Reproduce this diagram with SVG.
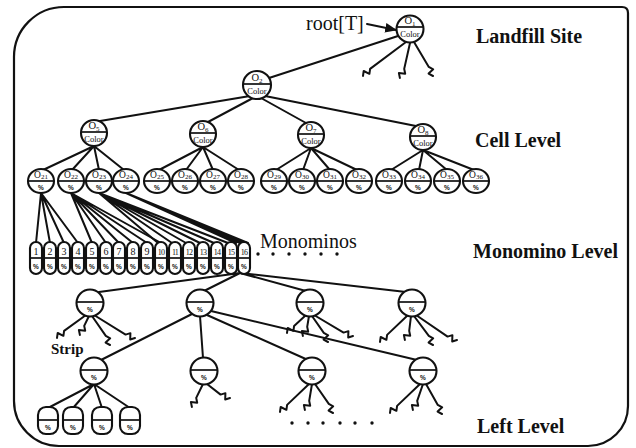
<svg xmlns="http://www.w3.org/2000/svg" width="636" height="448" viewBox="0 0 636 448">
  <defs>
    <style>
      .ln { stroke:#111; stroke-width:2; fill:none; stroke-linecap:round; stroke-linejoin:round }
      .nd { fill:#fff; stroke:#111; stroke-width:2.1 }
      .dv { stroke:#111; stroke-width:1.7 }
      .t { font-family:"Liberation Serif", "Times New Roman", serif; fill:#111 }
      .lbl { font-weight:bold; font-size:20px }
      .nm { font-size:10.5px; text-anchor:middle }
      .sm { font-size:9.5px; text-anchor:middle }
      .sub { font-size:7px }
      .cl { font-size:8.5px; text-anchor:middle }
      .pc { font-size:6.5px; text-anchor:middle; font-family:"Liberation Sans", sans-serif; font-weight:bold }
      .num { font-size:10px; text-anchor:middle }
      .num2 { font-size:8px; text-anchor:middle; letter-spacing:-0.8px }
      .dot { fill:#111 }
    </style>
    <marker id="arr" viewBox="0 0 10 10" refX="9" refY="5" markerWidth="6" markerHeight="6" orient="auto">
      <path d="M0,1 L10,5 L0,9 Z" fill="#111"/>
    </marker>
  </defs>
  <rect width="636" height="448" fill="#fff"/>

  <!-- outer frame -->
  <path class="ln" style="stroke-width:2.2" d="M64 7 H622 Q628 7 628 13 V406 A40 40 0 0 1 588 446 H59 A45 45 0 0 1 14 401 V57 A50 50 0 0 1 64 7 Z"/>

  <!-- level labels -->
  <g id="labels">
    <text class="t lbl" x="476" y="43">Landfill Site</text>
    <text class="t lbl" x="475" y="147">Cell Level</text>
    <text class="t lbl" x="473" y="258">Monomino Level</text>
    <text class="t lbl" x="477" y="433">Left Level</text>
    <text class="t" x="260" y="248" font-size="20">Monominos</text>
    <text class="t" x="51" y="354" font-size="15" font-weight="bold">Strip</text>
    <text class="t" x="306" y="30" font-size="20">root[T]</text>
  </g>

  <!-- connectors -->
  <g id="connectors">
    <line class="ln" x1="367" y1="24" x2="396" y2="30" marker-end="url(#arr)"/>
    <!-- root to O2 and stubs -->
    <line class="ln" x1="398" y1="36" x2="269" y2="78"/>
    <path class="ln" d="M406 42 L370.1 68.9 l-0.7 4.9 l-5.7 -2.8 l-0.7 4.9"/>
    <path class="ln" d="M410 43 L404.2 68.9 l1 4.9 l-6.3 -0.7 l1 4.9"/>
    <path class="ln" d="M414 42 L428.8 66.9 l4.4 2.4 l-4.6 4.3 l4.4 2.4"/>
    <!-- O2 to cells -->
    <line class="ln" x1="250" y1="96" x2="100" y2="121"/>
    <line class="ln" x1="253" y1="98" x2="208" y2="122"/>
    <line class="ln" x1="261" y1="98" x2="306" y2="123"/>
    <line class="ln" x1="265" y1="96" x2="416" y2="126"/>
    <!-- cells to O21..O36 -->
    <path class="ln" d="M94 146 L43 170 M94 146 L72 170 M94 146 L99 170 M94 146 L124 170"/>
    <path class="ln" d="M203 147 L159 170 M203 147 L186 170 M203 147 L213 170 M203 147 L239 170"/>
    <path class="ln" d="M311 148 L276 170 M311 148 L303 170 M311 148 L330 170 M311 148 L357 170"/>
    <path class="ln" d="M423 150 L391 170 M423 150 L419 170 M423 150 L447 170 M423 150 L474 170"/>
    <!-- O21..O24 to monominos -->
    <path class="ln" d="M41 193 L36 243 M41 193 L50 243 M41 193 L64 243 M41 193 L78 243"/>
    <path class="ln" d="M71 193 L92 243 M71 193 L106 243 M71 193 L119 243 M71 193 L133 243 M71 193 L147 243 M71 193 L161 243"/>
    <path class="ln" d="M99 193 L158 243 M99 193 L172 243 M99 193 L186 243 M99 193 L200 243 M99 193 L214 243 M99 193 L228 243"/>
    <path class="ln" d="M126 193 L236 243 M126 193 L240 243 M126 193 L244 243 M126 193 L248 243"/>
    <!-- monominos to strip nodes -->
    <path class="ln" d="M240 273 L99 292 M240 273 L204 291 M240 273 L306 291 M240 273 L406 292"/>
    <!-- strip node 1 stubs -->
    <path class="ln" d="M86 315 L64.1 330.9 l-0.7 4.9 l-5.7 -2.8 l-0.7 4.9"/>
    <path class="ln" d="M89 316 L84.2 325.9 l1 4.9 l-6.3 -0.7 l1 4.9"/>
    <path class="ln" d="M92 316 L105.8 335.9 l4.4 2.4 l-4.6 4.3 l4.4 2.4"/>
    <path class="ln" d="M94 315 L125.6 334.6 l4.8 -1.45 l-0.2 6.3 l4.8 -1.45"/>
    <!-- strip node 2 to left level -->
    <line class="ln" x1="192" y1="314" x2="101" y2="360"/>
    <line class="ln" x1="200" y1="316" x2="203" y2="358"/>
    <line class="ln" x1="207" y1="315" x2="308" y2="360"/>
    <line class="ln" x1="211" y1="311" x2="417" y2="360"/>
    <!-- strip node 3 stubs -->
    <path class="ln" d="M306 315 L294.1 325.9 l-0.7 4.9 l-5.7 -2.8 l-0.7 4.9"/>
    <path class="ln" d="M309 316 L307.2 326.9 l1 4.9 l-6.3 -0.7 l1 4.9"/>
    <path class="ln" d="M312 316 L323.8 332.9 l4.4 2.4 l-4.6 4.3 l4.4 2.4"/>
    <path class="ln" d="M314 315 L343.6 332.6 l4.8 -1.45 l-0.2 6.3 l4.8 -1.45"/>
    <!-- strip node 4 stubs -->
    <path class="ln" d="M408 315 L387.1 334.9 l-0.7 4.9 l-5.7 -2.8 l-0.7 4.9"/>
    <path class="ln" d="M411 316 L409.2 330.9 l1 4.9 l-6.3 -0.7 l1 4.9"/>
    <path class="ln" d="M414 316 L428.8 335.9 l4.4 2.4 l-4.6 4.3 l4.4 2.4"/>
    <path class="ln" d="M416 315 L447.6 336.6 l4.8 -1.45 l-0.2 6.3 l4.8 -1.45"/>
    <!-- left level A to leaves -->
    <path class="ln" d="M94 384 L48 408 M94 384 L73 408 M94 384 L102 408 M94 384 L130 408"/>
    <!-- left level B stubs -->
    <path class="ln" d="M203 384 L196.2 397.9 l1 4.9 l-6.3 -0.7 l1 4.9"/>
    <path class="ln" d="M207 384 L220.6 394.6 l4.8 -1.45 l-0.2 6.3 l4.8 -1.45"/>
    <!-- left level C stubs -->
    <path class="ln" d="M309 384 L287.1 404.9 l-0.7 4.9 l-5.7 -2.8 l-0.7 4.9"/>
    <path class="ln" d="M312 384 L309.2 400.9 l1 4.9 l-6.3 -0.7 l1 4.9"/>
    <path class="ln" d="M315 384 L328.8 403.9 l4.4 2.4 l-4.6 4.3 l4.4 2.4"/>
    <!-- left level D stubs -->
    <path class="ln" d="M420 384 L397.1 405.9 l-0.7 4.9 l-5.7 -2.8 l-0.7 4.9"/>
    <path class="ln" d="M423 384 L417.2 400.9 l1 4.9 l-6.3 -0.7 l1 4.9"/>
    <path class="ln" d="M426 384 L437.8 404.9 l4.4 2.4 l-4.6 4.3 l4.4 2.4"/>
  </g>

  <!-- continuation dots -->
  <g id="dots">
    <circle class="dot" cx="258" cy="254" r="1.7"/><circle class="dot" cx="273" cy="254" r="1.7"/>
    <circle class="dot" cx="289" cy="254" r="1.7"/><circle class="dot" cx="305" cy="254" r="1.7"/>
    <circle class="dot" cx="321" cy="254" r="1.7"/><circle class="dot" cx="337" cy="254" r="1.7"/>
    <circle class="dot" cx="292" cy="423" r="1.7"/><circle class="dot" cx="308" cy="423" r="1.7"/>
    <circle class="dot" cx="323" cy="423" r="1.7"/><circle class="dot" cx="340" cy="423" r="1.7"/>
    <circle class="dot" cx="355" cy="423" r="1.7"/><circle class="dot" cx="372" cy="423" r="1.7"/>
  </g>

  <!-- site and cell nodes -->
  <g id="o1"><circle class="nd" cx="410" cy="29" r="13.5"/><line class="dv" x1="397" y1="27" x2="423" y2="27"/><text class="t nm" x="410" y="24">O<tspan class="sub" dy="1.5">1</tspan></text><text class="t cl" x="410" y="37">Color</text></g>
  <g id="o2"><circle class="nd" cx="257" cy="85" r="14"/><line class="dv" x1="243" y1="84" x2="271" y2="84"/><text class="t nm" x="257" y="81">O<tspan class="sub" dy="1.5">2</tspan></text><text class="t cl" x="257" y="94">Color</text></g>
  <g id="o5"><circle class="nd" cx="94" cy="133" r="13"/><line class="dv" x1="81" y1="132" x2="107" y2="132"/><text class="t nm" x="94" y="129">O<tspan class="sub" dy="1.5">5</tspan></text><text class="t cl" x="94" y="142">Color</text></g>
  <g id="o6"><circle class="nd" cx="203" cy="134" r="13"/><line class="dv" x1="190" y1="133" x2="216" y2="133"/><text class="t nm" x="203" y="130">O<tspan class="sub" dy="1.5">6</tspan></text><text class="t cl" x="203" y="143">Color</text></g>
  <g id="o7"><circle class="nd" cx="311" cy="135" r="13"/><line class="dv" x1="298" y1="134" x2="324" y2="134"/><text class="t nm" x="311" y="131">O<tspan class="sub" dy="1.5">7</tspan></text><text class="t cl" x="311" y="144">Color</text></g>
  <g id="o8"><circle class="nd" cx="423" cy="137" r="13"/><line class="dv" x1="410" y1="136" x2="436" y2="136"/><text class="t nm" x="423" y="133">O<tspan class="sub" dy="1.5">8</tspan></text><text class="t cl" x="423" y="146">Color</text></g>

  <!-- sub-cell nodes O21..O36 -->
  <g id="o21"><ellipse class="nd" cx="41" cy="181" rx="13" ry="12"/><line class="dv" x1="28" y1="181" x2="54" y2="181"/><text class="t sm" x="41" y="178">O<tspan class="sub" dy="1">21</tspan></text><text class="t pc" x="41" y="190">%</text></g>
  <g id="o22"><ellipse class="nd" cx="71" cy="181" rx="13" ry="12"/><line class="dv" x1="58" y1="181" x2="84" y2="181"/><text class="t sm" x="71" y="178">O<tspan class="sub" dy="1">22</tspan></text><text class="t pc" x="71" y="190">%</text></g>
  <g id="o23"><ellipse class="nd" cx="99" cy="181" rx="13" ry="12"/><line class="dv" x1="86" y1="181" x2="112" y2="181"/><text class="t sm" x="99" y="178">O<tspan class="sub" dy="1">23</tspan></text><text class="t pc" x="99" y="190">%</text></g>
  <g id="o24"><ellipse class="nd" cx="126" cy="181" rx="13" ry="12"/><line class="dv" x1="113" y1="181" x2="139" y2="181"/><text class="t sm" x="126" y="178">O<tspan class="sub" dy="1">24</tspan></text><text class="t pc" x="126" y="190">%</text></g>
  <g id="o25"><ellipse class="nd" cx="157" cy="181" rx="13" ry="12"/><line class="dv" x1="144" y1="181" x2="170" y2="181"/><text class="t sm" x="157" y="178">O<tspan class="sub" dy="1">25</tspan></text><text class="t pc" x="157" y="190">%</text></g>
  <g id="o26"><ellipse class="nd" cx="185" cy="181" rx="13" ry="12"/><line class="dv" x1="172" y1="181" x2="198" y2="181"/><text class="t sm" x="185" y="178">O<tspan class="sub" dy="1">26</tspan></text><text class="t pc" x="185" y="190">%</text></g>
  <g id="o27"><ellipse class="nd" cx="213" cy="181" rx="13" ry="12"/><line class="dv" x1="200" y1="181" x2="226" y2="181"/><text class="t sm" x="213" y="178">O<tspan class="sub" dy="1">27</tspan></text><text class="t pc" x="213" y="190">%</text></g>
  <g id="o28"><ellipse class="nd" cx="241" cy="181" rx="13" ry="12"/><line class="dv" x1="228" y1="181" x2="254" y2="181"/><text class="t sm" x="241" y="178">O<tspan class="sub" dy="1">28</tspan></text><text class="t pc" x="241" y="190">%</text></g>
  <g id="o29"><ellipse class="nd" cx="274" cy="181" rx="13" ry="12"/><line class="dv" x1="261" y1="181" x2="287" y2="181"/><text class="t sm" x="274" y="178">O<tspan class="sub" dy="1">29</tspan></text><text class="t pc" x="274" y="190">%</text></g>
  <g id="o30"><ellipse class="nd" cx="302" cy="181" rx="13" ry="12"/><line class="dv" x1="289" y1="181" x2="315" y2="181"/><text class="t sm" x="302" y="178">O<tspan class="sub" dy="1">30</tspan></text><text class="t pc" x="302" y="190">%</text></g>
  <g id="o31"><ellipse class="nd" cx="330" cy="181" rx="13" ry="12"/><line class="dv" x1="317" y1="181" x2="343" y2="181"/><text class="t sm" x="330" y="178">O<tspan class="sub" dy="1">31</tspan></text><text class="t pc" x="330" y="190">%</text></g>
  <g id="o32"><ellipse class="nd" cx="359" cy="181" rx="13" ry="12"/><line class="dv" x1="346" y1="181" x2="372" y2="181"/><text class="t sm" x="359" y="178">O<tspan class="sub" dy="1">32</tspan></text><text class="t pc" x="359" y="190">%</text></g>
  <g id="o33"><ellipse class="nd" cx="389" cy="181" rx="13" ry="12"/><line class="dv" x1="376" y1="181" x2="402" y2="181"/><text class="t sm" x="389" y="178">O<tspan class="sub" dy="1">33</tspan></text><text class="t pc" x="389" y="190">%</text></g>
  <g id="o34"><ellipse class="nd" cx="418" cy="181" rx="13" ry="12"/><line class="dv" x1="405" y1="181" x2="431" y2="181"/><text class="t sm" x="418" y="178">O<tspan class="sub" dy="1">34</tspan></text><text class="t pc" x="418" y="190">%</text></g>
  <g id="o35"><ellipse class="nd" cx="447" cy="181" rx="13" ry="12"/><line class="dv" x1="434" y1="181" x2="460" y2="181"/><text class="t sm" x="447" y="178">O<tspan class="sub" dy="1">35</tspan></text><text class="t pc" x="447" y="190">%</text></g>
  <g id="o36"><ellipse class="nd" cx="476" cy="181" rx="13" ry="12"/><line class="dv" x1="463" y1="181" x2="489" y2="181"/><text class="t sm" x="476" y="178">O<tspan class="sub" dy="1">36</tspan></text><text class="t pc" x="476" y="190">%</text></g>

  <!-- monomino nodes 1..16 -->
  <g id="m1"><rect class="nd" x="30" y="242" width="12" height="32" rx="6"/><line class="dv" x1="30" y1="258" x2="42" y2="258"/><text class="t num" x="36" y="255">1</text><text class="t pc" x="36" y="269">%</text></g>
  <g id="m2"><rect class="nd" x="44" y="242" width="12" height="32" rx="6"/><line class="dv" x1="44" y1="258" x2="56" y2="258"/><text class="t num" x="50" y="255">2</text><text class="t pc" x="50" y="269">%</text></g>
  <g id="m3"><rect class="nd" x="58" y="242" width="12" height="32" rx="6"/><line class="dv" x1="58" y1="258" x2="70" y2="258"/><text class="t num" x="64" y="255">3</text><text class="t pc" x="64" y="269">%</text></g>
  <g id="m4"><rect class="nd" x="72" y="242" width="12" height="32" rx="6"/><line class="dv" x1="72" y1="258" x2="84" y2="258"/><text class="t num" x="78" y="255">4</text><text class="t pc" x="78" y="269">%</text></g>
  <g id="m5"><rect class="nd" x="86" y="242" width="12" height="32" rx="6"/><line class="dv" x1="86" y1="258" x2="98" y2="258"/><text class="t num" x="92" y="255">5</text><text class="t pc" x="92" y="269">%</text></g>
  <g id="m6"><rect class="nd" x="100" y="242" width="12" height="32" rx="6"/><line class="dv" x1="100" y1="258" x2="112" y2="258"/><text class="t num" x="106" y="255">6</text><text class="t pc" x="106" y="269">%</text></g>
  <g id="m7"><rect class="nd" x="113" y="242" width="12" height="32" rx="6"/><line class="dv" x1="113" y1="258" x2="125" y2="258"/><text class="t num" x="119" y="255">7</text><text class="t pc" x="119" y="269">%</text></g>
  <g id="m8"><rect class="nd" x="127" y="242" width="12" height="32" rx="6"/><line class="dv" x1="127" y1="258" x2="139" y2="258"/><text class="t num" x="133" y="255">8</text><text class="t pc" x="133" y="269">%</text></g>
  <g id="m9"><rect class="nd" x="141" y="242" width="12" height="32" rx="6"/><line class="dv" x1="141" y1="258" x2="153" y2="258"/><text class="t num" x="147" y="255">9</text><text class="t pc" x="147" y="269">%</text></g>
  <g id="m10"><rect class="nd" x="155" y="242" width="12" height="32" rx="6"/><line class="dv" x1="155" y1="258" x2="167" y2="258"/><text class="t num2" x="161" y="255">10</text><text class="t pc" x="161" y="269">%</text></g>
  <g id="m11"><rect class="nd" x="169" y="242" width="12" height="32" rx="6"/><line class="dv" x1="169" y1="258" x2="181" y2="258"/><text class="t num2" x="175" y="255">11</text><text class="t pc" x="175" y="269">%</text></g>
  <g id="m12"><rect class="nd" x="183" y="242" width="12" height="32" rx="6"/><line class="dv" x1="183" y1="258" x2="195" y2="258"/><text class="t num2" x="189" y="255">12</text><text class="t pc" x="189" y="269">%</text></g>
  <g id="m13"><rect class="nd" x="197" y="242" width="12" height="32" rx="6"/><line class="dv" x1="197" y1="258" x2="209" y2="258"/><text class="t num2" x="203" y="255">13</text><text class="t pc" x="203" y="269">%</text></g>
  <g id="m14"><rect class="nd" x="211" y="242" width="12" height="32" rx="6"/><line class="dv" x1="211" y1="258" x2="223" y2="258"/><text class="t num2" x="217" y="255">14</text><text class="t pc" x="217" y="269">%</text></g>
  <g id="m15"><rect class="nd" x="225" y="242" width="12" height="32" rx="6"/><line class="dv" x1="225" y1="258" x2="237" y2="258"/><text class="t num2" x="231" y="255">15</text><text class="t pc" x="231" y="269">%</text></g>
  <g id="m16"><rect class="nd" x="238" y="242" width="12" height="32" rx="6"/><line class="dv" x1="238" y1="258" x2="250" y2="258"/><text class="t num2" x="244" y="255">16</text><text class="t pc" x="244" y="269">%</text></g>

  <!-- strip nodes -->
  <g id="s1"><circle class="nd" cx="90" cy="303" r="13.5"/><line class="dv" x1="76.5" y1="302" x2="103.5" y2="302"/><text class="t pc" x="90" y="312">%</text></g>
  <g id="s2"><circle class="nd" cx="200" cy="303" r="13.5"/><line class="dv" x1="186.5" y1="302" x2="213.5" y2="302"/><text class="t pc" x="200" y="312">%</text></g>
  <g id="s3"><circle class="nd" cx="310" cy="303" r="13.5"/><line class="dv" x1="296.5" y1="302" x2="323.5" y2="302"/><text class="t pc" x="310" y="312">%</text></g>
  <g id="s4"><circle class="nd" cx="412" cy="303" r="13.5"/><line class="dv" x1="398.5" y1="302" x2="425.5" y2="302"/><text class="t pc" x="412" y="312">%</text></g>

  <!-- left level nodes -->
  <g id="la"><circle class="nd" cx="94" cy="371" r="13.5"/><line class="dv" x1="80.5" y1="370" x2="107.5" y2="370"/><text class="t pc" x="94" y="380">%</text></g>
  <g id="lb"><circle class="nd" cx="204" cy="371" r="13.5"/><line class="dv" x1="190.5" y1="370" x2="217.5" y2="370"/><text class="t pc" x="204" y="380">%</text></g>
  <g id="lc"><circle class="nd" cx="312" cy="371" r="13.5"/><line class="dv" x1="298.5" y1="370" x2="325.5" y2="370"/><text class="t pc" x="312" y="380">%</text></g>
  <g id="ld"><circle class="nd" cx="423" cy="371" r="13.5"/><line class="dv" x1="409.5" y1="370" x2="436.5" y2="370"/><text class="t pc" x="423" y="380">%</text></g>

  <!-- leaves under node A -->
  <g id="leaf1"><rect class="nd" x="38" y="407" width="20" height="27" rx="8"/><line class="dv" x1="38" y1="420" x2="58" y2="420"/><text class="t pc" x="48" y="430">%</text></g>
  <g id="leaf2"><rect class="nd" x="63" y="407" width="20" height="27" rx="8"/><line class="dv" x1="63" y1="420" x2="83" y2="420"/><text class="t pc" x="73" y="430">%</text></g>
  <g id="leaf3"><rect class="nd" x="92" y="407" width="20" height="27" rx="8"/><line class="dv" x1="92" y1="420" x2="112" y2="420"/><text class="t pc" x="102" y="430">%</text></g>
  <g id="leaf4"><rect class="nd" x="120" y="407" width="20" height="27" rx="8"/><line class="dv" x1="120" y1="420" x2="140" y2="420"/><text class="t pc" x="130" y="430">%</text></g>
</svg>
